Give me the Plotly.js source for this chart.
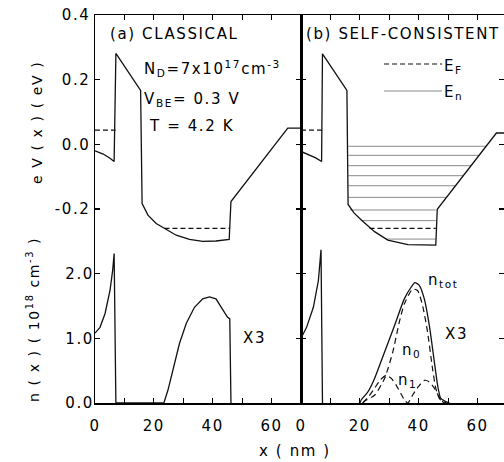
<!DOCTYPE html>
<html>
<head>
<meta charset="utf-8">
<script src="https://cdn.plot.ly/plotly-3.0.1.min.js"></script>
<style>
html, body { margin:0; padding:0; background:#fff; }
svg text { letter-spacing: 1.6px; }
</style>
</head>
<body>
<div id="chart"></div>
<script>
// ---------- data (x in nm, potential in eV, density in 1e18 cm^-3) ----------
// (a) classical: potential energy profile
const potAx = [0, 2.8, 5.1, 6.5, 7.1, 15.5, 16.0, 18.0, 20.8, 23.6, 27.6, 32.1, 36.6, 41.1, 45.6, 46.2, 65.5, 70];
const potAy = [-0.020, -0.030, -0.043, -0.053, 0.281, 0.167, -0.183, -0.219, -0.245, -0.260, -0.281, -0.294, -0.300, -0.299, -0.294, -0.177, 0.050, 0.050];
// (a) Fermi levels (emitter, base)
const efAx = [0, 7.0, null, 23.6, 45.6];
const efAy = [0.044, 0.044, null, -0.260, -0.260];
// (a) classical electron density
const nAx = [0, 1.7, 3.4, 5.1, 6.0, 6.5, 7.1, 23.4, 24.8, 26.5, 28.7, 31.0, 33.8, 36.6, 38.9, 41.1, 43.3, 45.0, 45.8, 46.2];
const nAy = [1.08, 1.17, 1.38, 1.74, 2.05, 2.31, 0, 0, 0.20, 0.51, 0.92, 1.23, 1.48, 1.61, 1.64, 1.61, 1.46, 1.33, 1.30, 0];

// (b) self-consistent: potential energy profile
const potBx = [0, 2.5, 5.0, 7.0, 7.3, 15.6, 16.0, 18.0, 20.5, 25.0, 29.5, 36.3, 41.0, 45.8, 46.3, 66.4, 70];
const potBy = [-0.022, -0.031, -0.042, -0.053, 0.280, 0.167, -0.186, -0.212, -0.234, -0.270, -0.296, -0.310, -0.312, -0.312, -0.201, 0.035, 0.035];
// (b) Fermi levels
const efBx = [0, 7.3, null, 23.3, 45.8];
const efBy = [0.044, 0.044, null, -0.260, -0.260];
// (b) subband energies E_n and their extent
const subE     = [-0.006, -0.034, -0.066, -0.097, -0.128, -0.164, -0.203, -0.236, -0.293];
const subStart = [16.1, 16.1, 16.1, 16.1, 16.1, 16.1, 16.6, 20.5, 28.8];
const subEnd   = [62.9, 60.5, 57.8, 55.2, 52.5, 49.5, 45.8, 45.8, 45.8];
// (b) emitter density
const nBex = [0, 1.9, 4.2, 5.9, 6.8, 7.3];
const nBey = [1.00, 1.17, 1.48, 1.89, 2.37, 0];
// (b) base densities (x3)
const ntotX = [20.0, 20.5, 22.7, 25.0, 28.4, 31.8, 35.1, 37.4, 38.7, 40.2, 41.9, 43.6, 45.3, 46.4, 47.5, 49.2, 50.5];
const ntotY = [0, 0.05, 0.17, 0.38, 0.79, 1.20, 1.61, 1.79, 1.86, 1.82, 1.61, 1.20, 0.64, 0.28, 0.07, 0.02, 0];
const n0X = [21.0, 21.6, 25.0, 28.4, 31.2, 33.4, 35.1, 37.9, 39.6, 41.3, 43.0, 44.7, 45.8, 47.0, 48.1, 49.5];
const n0Y = [0, 0.03, 0.12, 0.38, 0.79, 1.25, 1.53, 1.76, 1.74, 1.51, 1.10, 0.53, 0.23, 0.07, 0.02, 0];
const n1X = [21.0, 23.0, 25.0, 27.0, 29.0, 30.7, 32.3, 34.0, 35.1, 36.3, 37.9, 40.0, 41.9, 43.5, 45.3, 47.5, 48.6];
const n1Y = [0, 0.10, 0.23, 0.36, 0.43, 0.38, 0.28, 0.14, 0.05, 0, 0.12, 0.26, 0.35, 0.33, 0.23, 0.05, 0];

const xTicks = [0, 20, 40, 60];
const eTicks = [-0.2, 0, 0.2, 0.4];
const eTickText = ['-0.2', '0.0', '0.2', '0.4'];
const nTicks = [0, 1, 2];
const nTickText = ['0.0', '1.0', '2.0'];

// build subband line trace
const subX = [], subY = [];
subE.forEach((e, i) => { subX.push(subStart[i], subEnd[i], null); subY.push(e, e, null); });

const blk = '#111';
const solid = {color: blk, width: 1.3};
const traces = [
  {x: potAx, y: potAy, xaxis: 'x', yaxis: 'y', line: solid},
  {x: efAx, y: efAy, xaxis: 'x', yaxis: 'y', line: {color: blk, width: 1.2, dash: '5px,3px'}},
  {x: nAx, y: nAy, xaxis: 'x', yaxis: 'y2', line: solid},
  {x: subX, y: subY, xaxis: 'x2', yaxis: 'y3', line: {color: '#8a8a8a', width: 1}},
  {x: potBx, y: potBy, xaxis: 'x2', yaxis: 'y3', line: solid},
  {x: efBx, y: efBy, xaxis: 'x2', yaxis: 'y3', line: {color: blk, width: 1.2, dash: '5px,3px'}},
  {x: nBex, y: nBey, xaxis: 'x2', yaxis: 'y4', line: solid},
  {x: ntotX, y: ntotY, xaxis: 'x2', yaxis: 'y4', line: {color: blk, width: 1.3, shape: 'spline', smoothing: 0.6}},
  {x: n0X, y: n0Y, xaxis: 'x2', yaxis: 'y4', line: {color: blk, width: 1.2, dash: '6px,4px', shape: 'spline', smoothing: 0.6}},
  {x: n1X, y: n1Y, xaxis: 'x2', yaxis: 'y4', line: {color: blk, width: 1.2, dash: '6px,4px', shape: 'spline', smoothing: 0.6}}
].map(t => Object.assign({type: 'scatter', mode: 'lines', showlegend: false, hoverinfo: 'skip'}, t));

const FONT = 'DejaVu Sans, Liberation Sans, Arial, sans-serif';
const axBase = {
  showline: true, linecolor: '#000', linewidth: 1.5, mirror: 'ticks',
  ticks: 'inside', ticklen: 5, tickwidth: 1.2, tickcolor: '#000',
  showgrid: false, zeroline: false,
  tickfont: {family: FONT, size: 15, color: '#000'}
};
const xAx = (dom, anchor, rng) => Object.assign({}, axBase, {
  domain: dom, anchor: anchor, range: rng, tickmode: 'array', tickvals: xTicks,
  ticklabelstandoff: 8,
  minor: {dtick: 10, ticks: 'inside', ticklen: 5, tickwidth: 1.2, tickcolor: '#000'}
});
const eAx = (anchor, labels) => Object.assign({}, axBase, {
  anchor: anchor, range: [-0.8, 0.4], tickmode: 'array', tickvals: eTicks, ticktext: eTickText, showticklabels: labels
});
const nAx2 = (anchor, over, labels) => Object.assign({}, axBase, {
  anchor: anchor, overlaying: over, side: 'left', showline: false, range: [0, 6], tickmode: 'array', tickvals: nTicks, ticktext: nTickText, showticklabels: labels
});

// pixel -> paper helpers for annotation placement
const L = 95, T = 15, PW = 409, PH = 388;
const PX = p => (p - L) / PW;
const PY = p => (T + PH - p) / PH;

const txt = (text, x, y, opts) => Object.assign({
  text: text, x: PX(x), y: PY(y), xref: 'paper', yref: 'paper', showarrow: false,
  xanchor: 'left', yanchor: 'middle', font: {family: FONT, size: 15, color: '#000'}
}, opts || {});
const f14 = {family: FONT, size: 14, color: '#000'};

const annotations = [
  txt('(a) CLASSICAL', 108, 34),
  txt('(b) SELF-CONSISTENT', 304, 34),
  txt('N<sub>D</sub>=7x10<sup>17</sup>cm<sup>-3</sup>', 142, 69),
  txt('V<sub>BE</sub>= 0.3 V', 142, 99),
  txt('T = 4.2 K', 147, 126),
  txt('E<sub>F</sub>', 442, 66),
  txt('E<sub>n</sub>', 442, 93),
  txt('X3', 241, 338),
  txt('X3', 443, 334),
  txt('n<sub>tot</sub>', 426, 280),
  txt('n<sub>0</sub>', 400, 350),
  txt('n<sub>1</sub>', 396, 380),
  txt('e V ( x ) ( eV )', 37, 123, {xanchor: 'center', textangle: -90, font: f14}),
  txt('n ( x ) ( 10<sup>18</sup> cm<sup>-3</sup> )', 33, 320, {xanchor: 'center', textangle: -90, font: f14}),
  txt('x ( nm )', 295, 451, {xanchor: 'center'})
];

const shapes = [
  {type: 'line', xref: 'paper', yref: 'paper', x0: PX(384), x1: PX(442), y0: PY(64), y1: PY(64), line: {color: blk, width: 1.2, dash: '5px,3px'}},
  {type: 'line', xref: 'paper', yref: 'paper', x0: PX(384), x1: PX(442), y0: PY(91), y1: PY(91), line: {color: '#8a8a8a', width: 1}}
];

// left panel: 206 px for 0..70 nm; right panel clipped at the page edge (203 px)
const split = 206 / 409;
const layout = {
  width: 504, height: 462,
  margin: {l: 95, r: 0, t: 15, b: 59},
  paper_bgcolor: '#fff', plot_bgcolor: '#fff',
  showlegend: false,
  xaxis: xAx([0, split], 'y', [0, 70]),
  xaxis2: xAx([split, 1], 'y3', [0, 70 * 203 / 206]),
  yaxis: eAx('x', true),
  yaxis2: nAx2('x', 'y', true),
  yaxis3: eAx('x2', false),
  yaxis4: nAx2('x2', 'y3', false),
  annotations: annotations,
  shapes: shapes
};

Plotly.newPlot('chart', traces, layout, {staticPlot: true, displayModeBar: false});
</script>
</body>
</html>
